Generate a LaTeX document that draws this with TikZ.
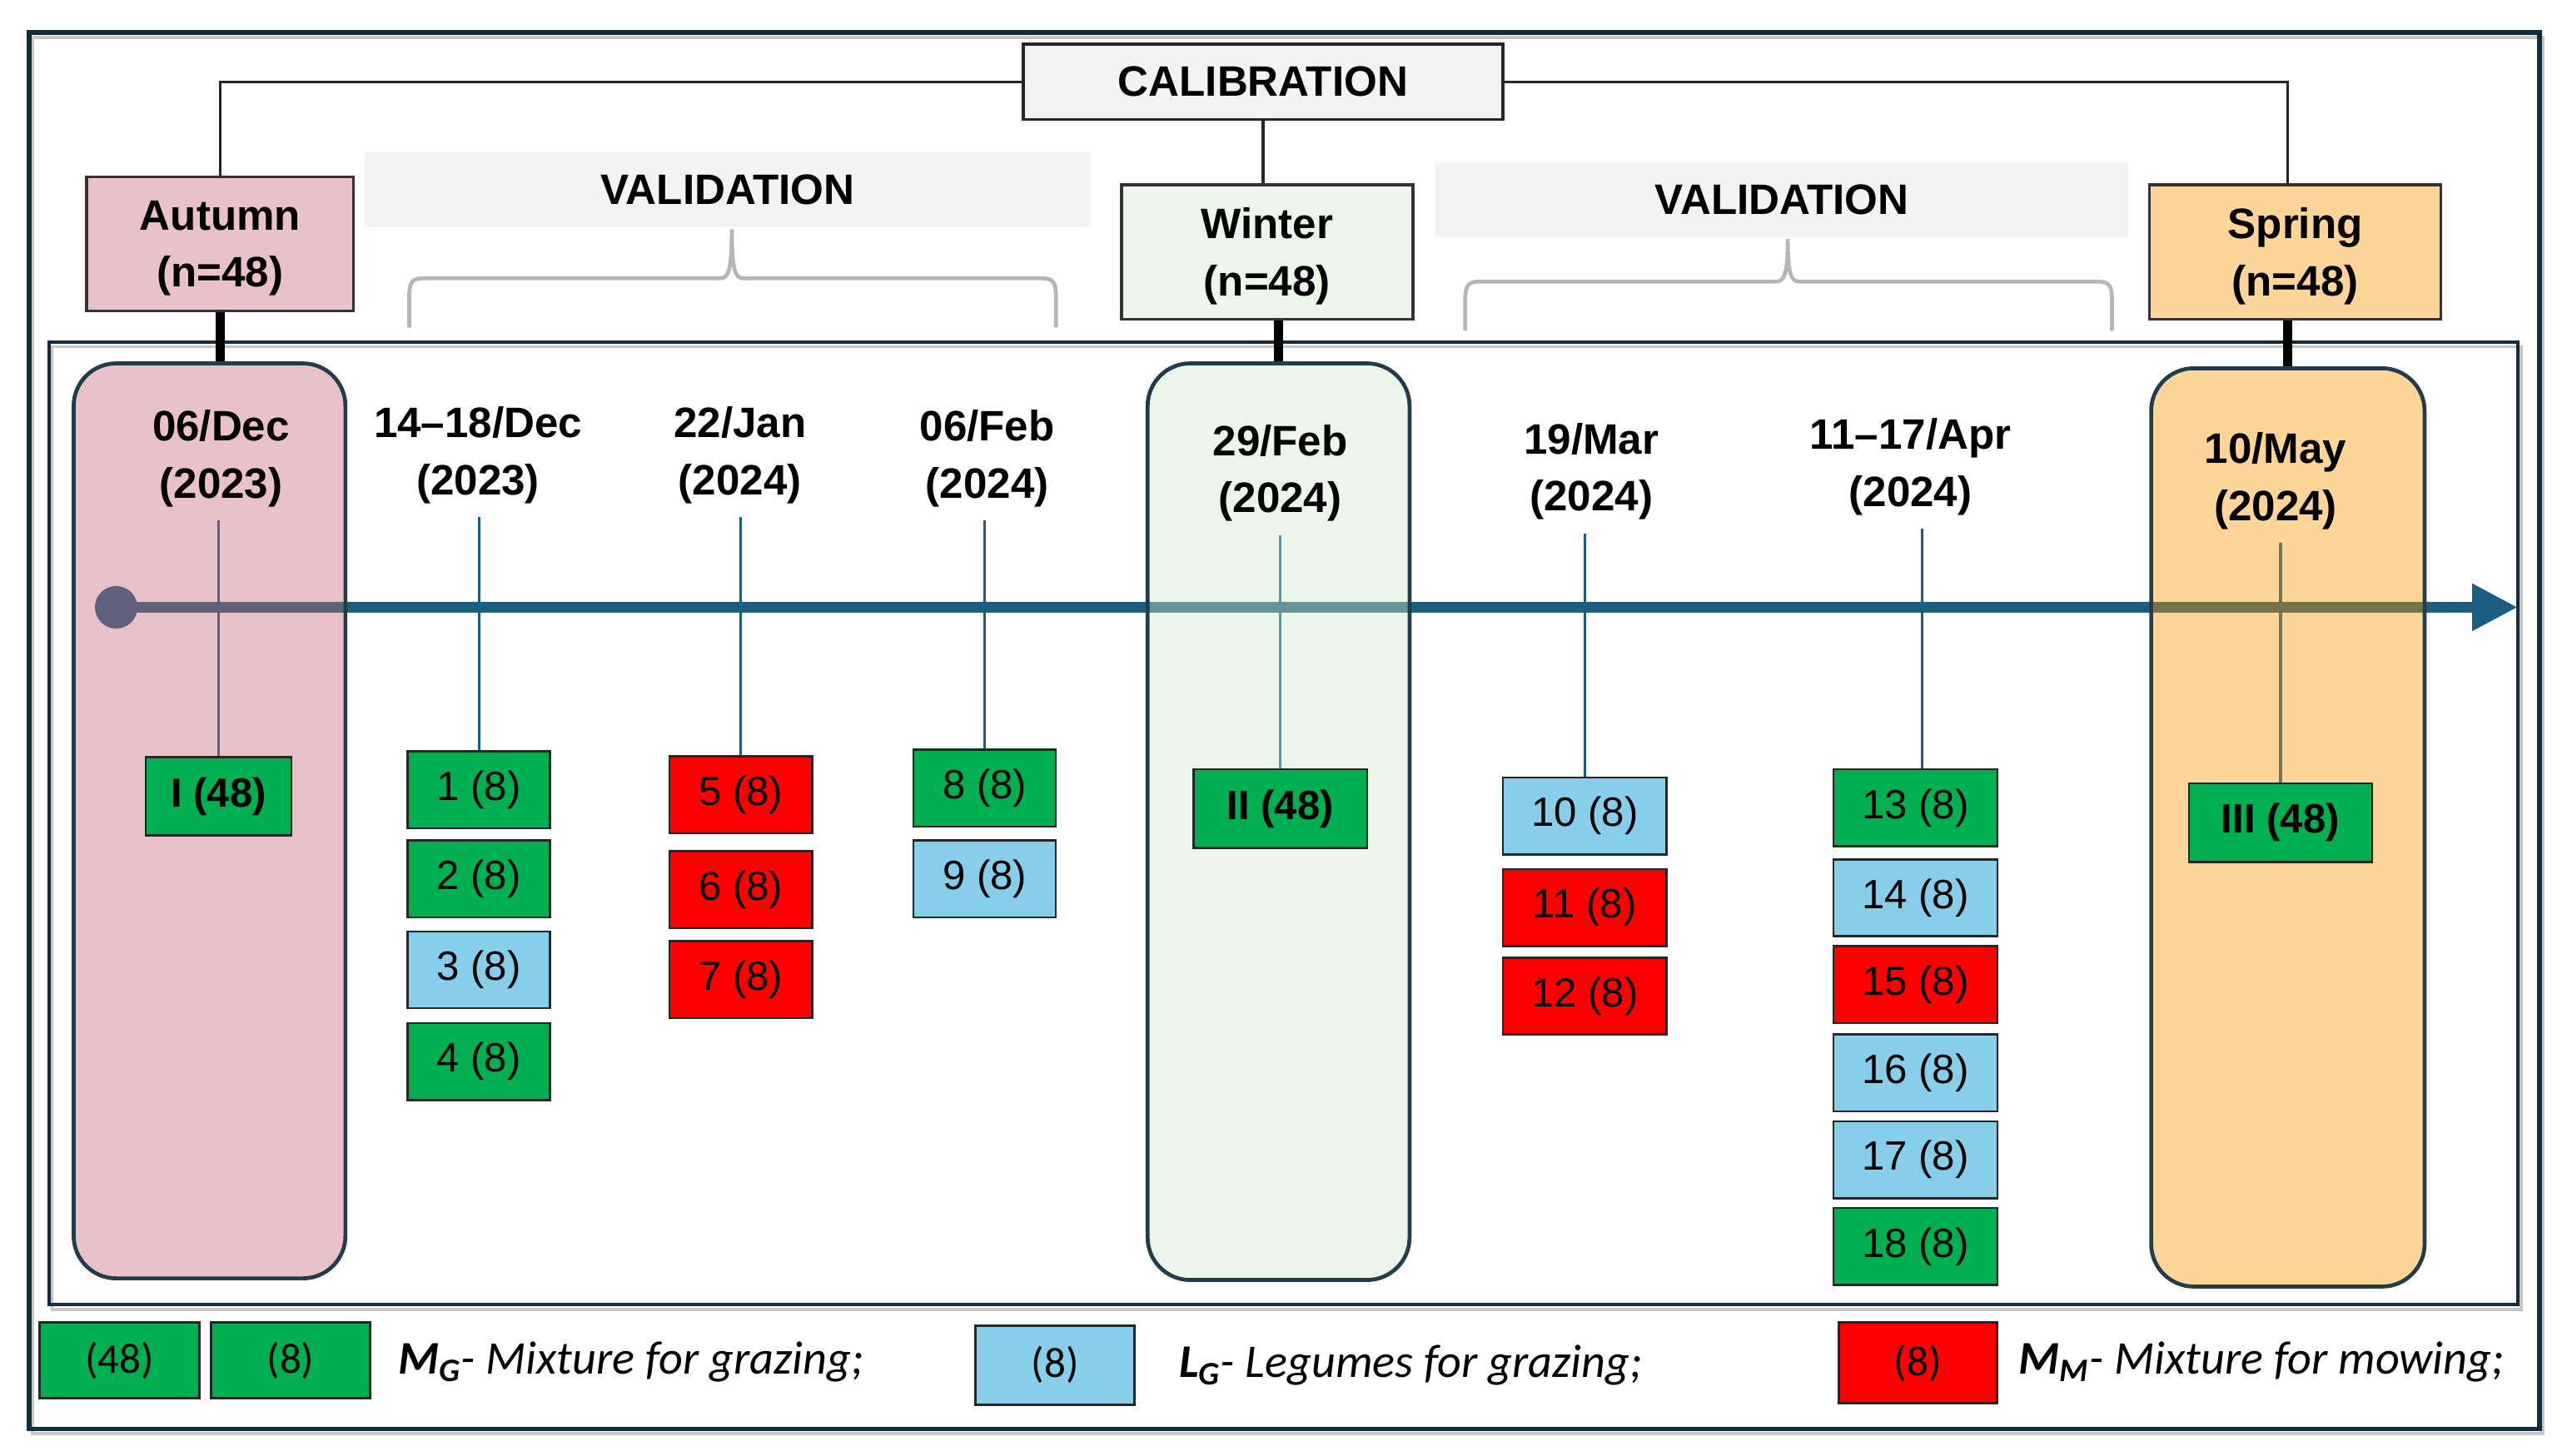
\documentclass[tikz,border=0pt]{standalone}
\usepackage{fontspec}
\setmainfont{Liberation Sans}
\newfontfamily\legfont{Carlito}
\usetikzlibrary{arrows.meta,calc}
\definecolor{navy}{RGB}{18,44,60}
\definecolor{colborder}{RGB}{34,60,76}
\definecolor{axisblue}{RGB}{26,94,130}
\definecolor{mg}{RGB}{0,176,80}
\definecolor{lg}{RGB}{135,206,235}
\definecolor{mm}{RGB}{255,0,0}
\definecolor{autfill}{RGB}{232,194,200}
\definecolor{winfill}{RGB}{236,245,233}
\definecolor{sprfill}{RGB}{253,213,155}
\definecolor{autcolc}{RGB}{198,102,117}
\definecolor{wincolc}{RGB}{207,230,200}
\definecolor{sprcolc}{RGB}{250,150,0}
\definecolor{bandgrey}{RGB}{243,243,243}
\definecolor{bracegrey}{RGB}{182,182,182}
\pgfdeclarelayer{bg}
\pgfdeclarelayer{mid}
\pgfsetlayers{bg,mid,main}
\tikzset{
  lab/.style={font=\fontsize{26}{35}\selectfont\bfseries, align=center, inner sep=0pt},
  seasonbox/.style={lab, draw=black!80, line width=1.8pt, minimum width=#1, minimum height=82pt, text depth=-0.5pt},
  colbox/.style={draw=colborder, line width=2.4pt, rounded corners=26pt, fill opacity=0.4, inner sep=0pt},
  band/.style={lab, fill=bandgrey, minimum height=46pt},
  sbox/.style={draw=black!85, line width=1.3pt, minimum width=#1, minimum height=47pt, inner sep=0pt, font=\fontsize{25}{30}\selectfont},
  bigbox/.style={sbox=#1, font=\fontsize{25}{30}\selectfont\bfseries, minimum height=48pt},
  vline/.style={axisblue, line width=1.6pt, shorten >=8pt},
  link/.style={black!85, line width=1.6pt},
  thicklink/.style={black, line width=5.5pt},
  bracepath/.style={bracegrey, line width=2.4pt},
  lbox/.style={draw=black!85, line width=1.5pt, minimum width=97pt, inner sep=0pt, font=\legfont\fontsize{26}{30}\selectfont},
  legtext/.style={anchor=west, inner sep=0pt, font=\legfont\fontsize{28.6}{32}\selectfont\itshape}
}
\begin{document}
\begin{tikzpicture}[x=1pt,y=-1pt]
\useasboundingbox (0,0) rectangle (1568,889.5);
% frames
\draw[gray!45, line width=2pt] (20,23) rectangle (1553,876);
\draw[navy, line width=3pt] (18,20) rectangle (1551,873);
\draw[gray!45, line width=1.6pt] (32,212) rectangle (1540,800);
\draw[navy, line width=2.2pt] (30,209) rectangle (1538,797);

% top header
\node[lab, draw=black!85, line width=1.8pt, fill=bandgrey, minimum width=293pt, minimum height=46pt] (cal) at (771.5,50) {CALIBRATION};
\node[seasonbox=163pt, fill=autfill] (aut) at (134.5,149) {Autumn\\(n=48)};
\node[seasonbox=178pt, fill=winfill] (win) at (774,154) {Winter\\(n=48)};
\node[seasonbox=178pt, fill=sprfill] (spr) at (1402,154) {Spring\\(n=48)};
\node[band, minimum width=443pt] (val1) at (444.5,116) {VALIDATION};
\node[band, minimum width=423pt] (val2) at (1088.5,122) {VALIDATION};

% braces
\draw[bracepath] (250,200) -- (250,181) .. controls (250,172) and (252,170) .. (259,170) -- (440,170) .. controls (445,170) and (447,165) .. (447,140) .. controls (447,165) and (449,170) .. (454,170) -- (636,170) .. controls (643,170) and (645,172) .. (645,181) -- (645,200);
\draw[bracepath] (895,202) -- (895,183) .. controls (895,174) and (897,172) .. (904,172) -- (1085,172) .. controls (1090,172) and (1092,167) .. (1092,146) .. controls (1092,167) and (1094,172) .. (1099,172) -- (1281,172) .. controls (1288,172) and (1290,174) .. (1290,183) -- (1290,202);

% columns
\begin{pgfonlayer}{mid}
\node[colbox, fill=autcolc, minimum width=166pt, minimum height=559pt] (autcol) at (128,501.5) {};
\node[colbox, fill=wincolc, minimum width=160pt, minimum height=560pt] (wincol) at (781,502) {};
\node[colbox, fill=sprcolc, minimum width=167pt, minimum height=561pt] (sprcol) at (1397.5,505.5) {};
\end{pgfonlayer}

% header connectors
\draw[link] (cal.west) -| (aut.north);
\draw[link] (cal.east) -| (sprcol.north |- spr.north);
\draw[link] (cal.south) -- (cal.south |- win.north);
\draw[thicklink] (aut.south) -- (aut.south |- autcol.north);
\draw[thicklink] (wincol.north |- win.south) -- (wincol.north);
\draw[thicklink] (sprcol.north |- spr.south) -- (sprcol.north);

% dates
\node[lab] (d0) at (135,280) {06/Dec\\(2023)};
\node[lab] (d1) at (292,278) {14–18/Dec\\(2023)};
\node[lab] (d2) at (452,278) {22/Jan\\(2024)};
\node[lab] (d3) at (603,280) {06/Feb\\(2024)};
\node[lab] (d4) at (782,289) {29/Feb\\(2024)};
\node[lab] (d5) at (972,288) {19/Mar\\(2024)};
\node[lab] (d6) at (1167,285) {11–17/Apr\\(2024)};
\node[lab] (d7) at (1390,294) {10/May\\(2024)};

% sample boxes
\node[bigbox=89pt, fill=mg] (b0) at (133.5,486.5) {I (48)};
\node[sbox=87pt, fill=mg] (b1) at (292.5,482.5) {1 (8)};
\node[sbox=87pt, fill=mg] (b2) at (292.5,537) {2 (8)};
\node[sbox=87pt, fill=lg] (b3) at (292.5,592.5) {3 (8)};
\node[sbox=87pt, fill=mg] (b4) at (292.5,648.5) {4 (8)};
\node[sbox=87pt, fill=mm] (b5) at (452.5,485.5) {5 (8)};
\node[sbox=87pt, fill=mm] (b6) at (452.5,543.5) {6 (8)};
\node[sbox=87pt, fill=mm] (b7) at (452.5,598.5) {7 (8)};
\node[sbox=87pt, fill=mg] (b8) at (601.5,481.5) {8 (8)};
\node[sbox=87pt, fill=lg] (b9) at (601.5,537) {9 (8)};
\node[bigbox=106pt, fill=mg] (bII) at (782,494) {II (48)};
\node[sbox=100pt, fill=lg] (b10) at (968,498.5) {10 (8)};
\node[sbox=100pt, fill=mm] (b11) at (968,554.5) {11 (8)};
\node[sbox=100pt, fill=mm] (b12) at (968,608.5) {12 (8)};
\node[sbox=100pt, fill=mg] (b13) at (1170,493.5) {13 (8)};
\node[sbox=100pt, fill=lg] (b14) at (1170,548.5) {14 (8)};
\node[sbox=100pt, fill=mm] (b15) at (1170,601.5) {15 (8)};
\node[sbox=100pt, fill=lg] (b16) at (1170,655.5) {16 (8)};
\node[sbox=100pt, fill=lg] (b17) at (1170,708.5) {17 (8)};
\node[sbox=100pt, fill=mg] (b18) at (1170,761.5) {18 (8)};
\node[bigbox=112pt, fill=mg] (bIII) at (1393,502.5) {III (48)};

% axis and stems (behind the columns)
\begin{pgfonlayer}{bg}
\node[circle, fill=axisblue, minimum size=26pt, inner sep=0pt] (start) at (71,371) {};
\coordinate (tip) at (1538,371);
\draw[axisblue, line width=7pt, -{Triangle[length=28pt,width=27pt]}] (start.center) -- (tip);
\draw[vline] (b0.north) -- (b0.north |- d0.south);
\draw[vline] (b1.north) -- (b1.north |- d1.south);
\draw[vline] (b5.north) -- (b5.north |- d2.south);
\draw[vline] (b8.north) -- (b8.north |- d3.south);
\draw[vline] (bII.north) -- (bII.north |- d4.south);
\draw[vline] (b10.north) -- (b10.north |- d5.south);
\draw[vline] ($(b13.north)+(4,0)$) -- ($(b13.north |- d6.south)+(4,0)$);
\draw[vline] (bIII.north) -- (bIII.north |- d7.south);
\end{pgfonlayer}

% legend
\node[lbox, fill=mg, minimum width=98pt, minimum height=46pt] (k48) at (73,831) {(48)};
\node[lbox, fill=mg, minimum height=46pt] (k8g) at (177.5,831) {(8)};
\node[legtext] (t1) at (243,832) {{\bfseries M}\textsubscript{\bfseries G}- Mixture for grazing;};
\node[lbox, fill=lg, minimum height=48pt] (k8b) at (644.5,834) {(8)};
\node[legtext] (t2) at (720,834) {{\bfseries L}\textsubscript{\bfseries G}- Legumes for grazing;};
\node[lbox, fill=mm, minimum height=49pt] (k8r) at (1171.5,832.5) {(8)};
\node[legtext] (t3) at (1233,832) {{\bfseries M}\textsubscript{\bfseries M}- Mixture for mowing;};
\end{tikzpicture}
\end{document}
